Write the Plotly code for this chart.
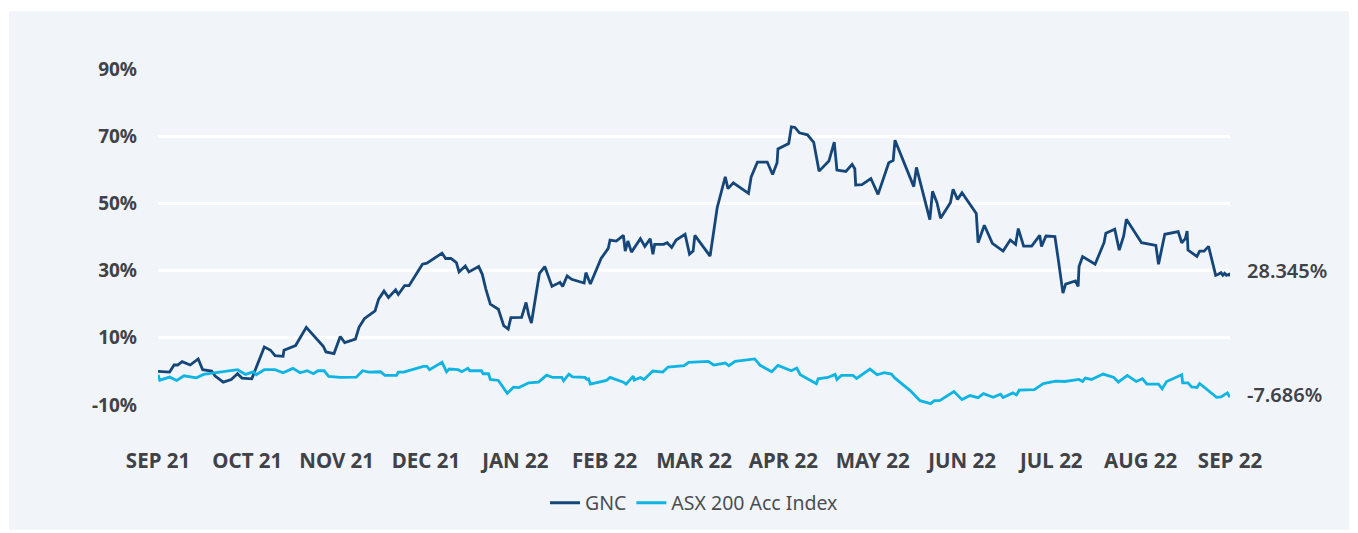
import plotly.graph_objects as go

# x = months elapsed since the start of the period (tick every month)
month_labels = ["SEP 21", "OCT 21", "NOV 21", "DEC 21", "JAN 22", "FEB 22", "MAR 22",
                "APR 22", "MAY 22", "JUN 22", "JUL 22", "AUG 22", "SEP 22"]
y_ticks = [-10, 10, 30, 50, 70, 90]

gnc_x = [0.00, 0.13, 0.18, 0.22, 0.27, 0.36, 0.45, 0.50, 0.60, 0.64, 0.73, 0.82, 0.89, 0.94, 1.05,
         1.19, 1.26, 1.31, 1.40, 1.41, 1.54, 1.66, 1.85, 1.88, 1.97, 2.04, 2.09, 2.21, 2.25, 2.31,
         2.43, 2.47, 2.53, 2.58, 2.66, 2.69, 2.76, 2.81, 2.96, 3.01, 3.18, 3.22, 3.28, 3.34, 3.37,
         3.44, 3.48, 3.59, 3.63, 3.67, 3.72, 3.81, 3.87, 3.92, 3.95, 4.07, 4.12, 4.15, 4.18, 4.27,
         4.33, 4.41, 4.50, 4.53, 4.58, 4.63, 4.77, 4.79, 4.84, 4.96, 5.04, 5.06, 5.13, 5.21, 5.23,
         5.26, 5.30, 5.40, 5.45, 5.51, 5.54, 5.56, 5.66, 5.70, 5.75, 5.80, 5.90, 5.95, 5.99, 6.01,
         6.18, 6.26, 6.35, 6.38, 6.44, 6.61, 6.64, 6.71, 6.82, 6.88, 6.93, 6.94, 7.06, 7.09, 7.13,
         7.18, 7.27, 7.34, 7.40, 7.51, 7.57, 7.60, 7.70, 7.77, 7.80, 7.81, 7.88, 7.98, 8.06, 8.18,
         8.23, 8.25, 8.46, 8.49, 8.64, 8.67, 8.72, 8.76, 8.87, 8.90, 8.95, 9.00, 9.16, 9.18, 9.25,
         9.34, 9.46, 9.54, 9.60, 9.63, 9.69, 9.78, 9.87, 9.89, 9.94, 10.04, 10.08, 10.13, 10.16,
         10.27, 10.30, 10.31, 10.35, 10.49, 10.59, 10.61, 10.71, 10.76, 10.81, 10.84, 11.01, 11.17,
         11.20, 11.27, 11.42, 11.46, 11.50, 11.52, 11.53, 11.63, 11.66, 11.71, 11.76, 11.84, 11.87,
         11.90, 11.92, 11.94, 11.96, 11.99, 12.00]
gnc_y = [0.0, -0.2, 1.9, 1.9, 2.9, 1.9, 3.7, 0.5, 0.1, -1.4, -3.2, -2.4, -0.7, -2.0, -2.2,
         7.3, 6.3, 4.7, 4.5, 6.3, 7.7, 13.1, 7.5, 5.8, 5.3, 10.4, 8.6, 9.6, 13.1, 15.7,
         18.0, 21.5, 23.9, 22.0, 24.3, 22.9, 25.5, 25.5, 31.9, 32.2, 35.2, 33.6, 33.6, 32.4, 29.6,
         31.4, 29.6, 31.2, 28.9, 24.5, 20.0, 18.5, 13.6, 12.6, 16.0, 16.1, 20.5, 16.8, 14.4, 29.2,
         31.2, 25.3, 26.5, 25.3, 28.4, 27.4, 26.3, 29.4, 26.0, 33.6, 36.6, 39.1, 38.8, 40.5, 35.8,
         38.8, 35.5, 39.5, 37.2, 39.5, 34.9, 37.8, 37.8, 38.3, 36.9, 39.1, 40.8, 34.9, 35.8, 40.5,
         34.3, 48.8, 57.9, 54.4, 56.1, 53.0, 57.9, 62.3, 62.3, 58.6, 62.1, 66.2, 67.8, 72.8, 72.6,
         71.0, 70.4, 68.2, 59.6, 62.6, 68.2, 59.9, 59.5, 61.6, 60.3, 55.5, 55.6, 57.4, 52.7, 62.1,
         62.8, 68.8, 55.0, 60.7, 45.2, 53.6, 50.2, 45.6, 50.2, 54.2, 51.2, 53.2, 47.0, 38.3, 43.5,
         38.1, 35.8, 39.1, 37.8, 42.5, 37.3, 37.3, 40.5, 37.2, 40.3, 40.1, 32.9, 23.3, 26.0,
         26.9, 25.3, 31.2, 34.2, 31.9, 38.3, 41.1, 42.3, 36.1, 40.3, 45.3, 38.3, 37.5,
         31.9, 40.8, 41.6, 38.3, 39.5, 41.8, 36.1, 34.2, 35.8, 35.8, 37.2, 28.6, 28.9,
         29.4, 28.6, 29.2, 28.6, 28.9, 28.345]

asx_x = [0.00, 0.02, 0.13, 0.21, 0.29, 0.43, 0.51, 0.66, 0.89, 0.98, 1.07, 1.10, 1.19, 1.31, 1.40,
         1.51, 1.59, 1.67, 1.74, 1.79, 1.86, 1.91, 2.04, 2.22, 2.29, 2.36, 2.49, 2.54, 2.67, 2.69,
         2.75, 2.97, 3.01, 3.04, 3.18, 3.23, 3.26, 3.36, 3.40, 3.47, 3.49, 3.62, 3.64, 3.70, 3.72,
         3.81, 3.87, 3.91, 3.98, 4.04, 4.15, 4.26, 4.35, 4.42, 4.52, 4.54, 4.60, 4.64, 4.78, 4.80,
         4.82, 4.84, 5.02, 5.06, 5.21, 5.24, 5.32, 5.33, 5.40, 5.44, 5.54, 5.65, 5.71, 5.89, 5.94,
         6.16, 6.22, 6.35, 6.39, 6.46, 6.68, 6.74, 6.87, 6.94, 7.09, 7.15, 7.19, 7.37, 7.39, 7.50,
         7.58, 7.60, 7.65, 7.78, 7.82, 7.97, 8.05, 8.13, 8.21, 8.25, 8.42, 8.53, 8.65, 8.69, 8.75,
         8.91, 9.00, 9.09, 9.18, 9.24, 9.35, 9.43, 9.46, 9.57, 9.61, 9.64, 9.81, 9.91, 10.05, 10.15,
         10.31, 10.35, 10.38, 10.45, 10.58, 10.70, 10.75, 10.85, 10.95, 11.02, 11.07, 11.20, 11.24,
         11.29, 11.46, 11.47, 11.53, 11.57, 11.63, 11.66, 11.85, 11.90, 11.97, 12.00]
asx_y = [-1.0, -2.6, -1.7, -2.7, -1.3, -1.9, -0.9, -0.4, 0.5, -0.9, -0.1, -1.0, 0.5, 0.5, -0.4,
         0.9, -0.4, 0.2, -0.7, 0.2, 0.2, -1.5, -1.8, -1.7, 0.2, -0.2, -0.1, -1.2, -1.2, -0.2,
         -0.2, 1.5, 1.5, 0.5, 2.7, -0.1, 0.7, 0.5, -0.1, 0.9, 0.2, 0.2, -0.7, -0.7, -2.4,
         -2.7, -5.0, -6.5, -4.7, -4.8, -3.4, -3.2, -1.1, -1.8, -1.8, -2.8, -0.8, -1.6, -1.8, -2.4,
         -2.2, -3.8, -2.7, -1.8, -3.2, -3.8, -1.4, -2.6, -1.8, -2.4, 0.1, -0.2, 1.3, 1.7, 2.7,
         3.0, 1.9, 2.5, 1.7, 3.0, 3.7, 1.8, -0.1, 1.8, 0.2, 1.0, -1.0, -3.7, -2.2, -1.8,
         -0.9, -2.4, -1.2, -1.2, -2.1, 0.7, -1.0, -0.4, -0.8, -2.0, -5.7, -8.7, -9.6, -8.7, -8.7,
         -6.0, -8.4, -7.2, -7.8, -6.6, -7.7, -6.8, -7.8, -6.4, -7.0, -5.6, -5.4, -3.6, -2.9, -3.0,
         -2.4, -3.0, -2.0, -2.4, -0.8, -1.8, -3.2, -1.2, -3.0, -2.2, -3.8, -3.8, -5.2,
         -3.0, -1.0, -3.4, -3.4, -4.6, -4.8, -3.6, -7.7, -7.6, -6.4, -7.686]

PANEL = "#f1f5f9"
TEXT = "#3f4246"
GNC_COLOR = "#15467a"
ASX_COLOR = "#0fb4e3"
FONT = "Noto Sans, Open Sans, sans-serif"

fig = go.Figure()
fig.add_trace(go.Scatter(x=gnc_x, y=gnc_y, mode="lines", name="GNC",
                         line=dict(color=GNC_COLOR, width=2.8)))
fig.add_trace(go.Scatter(x=asx_x, y=asx_y, mode="lines", name="ASX 200 Acc Index",
                         line=dict(color=ASX_COLOR, width=2.8)))

for xs, ys, dy in [(gnc_x, gnc_y, 6), (asx_x, asx_y, 3)]:
    fig.add_annotation(x=xs[-1], y=ys[-1], text=f"{ys[-1]:.3f}%", showarrow=False,
                       xanchor="left", yanchor="middle", xshift=15, yshift=dy,
                       font=dict(family=FONT, size=20, color=TEXT, weight=600))

# light panel behind the whole chart (plot area spans 158..1230 x 69..406 px on the page)
fig.add_shape(type="rect", xref="paper", yref="paper",
              x0=(9 - 158) / 1072, x1=(1349 - 158) / 1072,
              y0=(406 - 531) / 337, y1=(406 - 11) / 337,
              fillcolor=PANEL, line=dict(width=0), layer="below")

# the page body has an 8px margin, so the figure is sized/margined to land on the same pixels
fig.update_layout(
    width=1350, height=525,
    margin=dict(l=150, r=128, t=61, b=127),
    paper_bgcolor="white", plot_bgcolor=PANEL,
    font=dict(family=FONT, color=TEXT),
    showlegend=True,
    legend=dict(orientation="h", x=0.5, xanchor="center", y=-0.288, yanchor="middle",
                font=dict(family=FONT, size=19.5, color="#4a4d52"), bgcolor="rgba(0,0,0,0)",
                itemwidth=30, tracegroupgap=0),
    hovermode=False,
)
fig.update_xaxes(range=[0, 12], tickvals=list(range(13)), ticktext=month_labels,
                 showgrid=False, zeroline=False, showline=False, ticks="",
                 ticklabelstandoff=41,
                 tickfont=dict(family=FONT, size=20.5, color=TEXT, weight="bold"))
fig.update_yaxes(range=[-10, 90], tickvals=y_ticks, ticktext=[f"{v}%" for v in y_ticks],
                 showgrid=True, gridcolor="white", gridwidth=2.5, zeroline=False,
                 showline=False, ticks="", ticklabelstandoff=20,
                 tickfont=dict(family=FONT, size=19, color=TEXT, weight="bold"))

fig.write_html("out.html")
